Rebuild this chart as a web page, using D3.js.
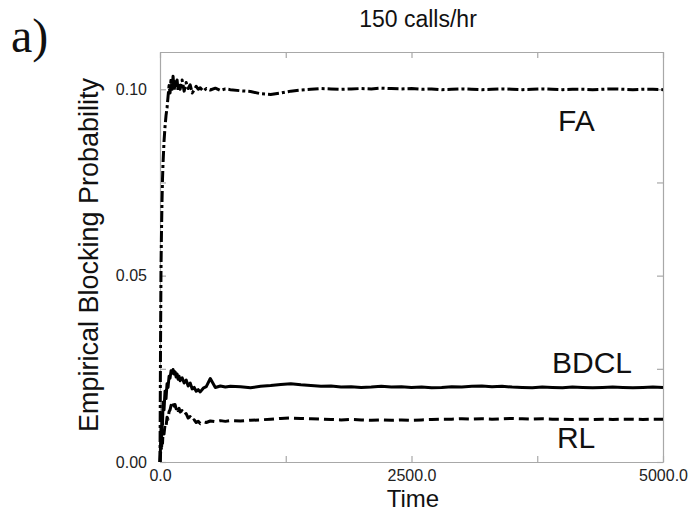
<!DOCTYPE html>
<html>
<head lang="en">
  <meta charset="UTF-8">
  <title>150 calls/hr</title>
</head>
<style>
  body { margin: 0; background: #fff; }
  #chart text { font-family: "Liberation Sans", Arial, sans-serif; fill: #111; }
  #chart .frame path.domain { stroke: #a8a8a8; stroke-width: 1.2; }
  #chart .frame line { stroke: #a8a8a8; stroke-width: 1.2; }
  #chart .series { fill: none; stroke: #000; stroke-width: 3; stroke-linejoin: round; }
</style>
<body>

<svg id="chart" width="691" height="512"></svg>

<script src="https://cdn.jsdelivr.net/npm/d3@7"></script>
<script>
  var times = [0, 5, 10, 15, 20, 25, 30, 40, 50, 60, 70, 80, 90, 100, 110, 120, 130, 140, 150, 160,
    170, 180, 190, 200, 220, 240, 260, 280, 300, 320, 340, 360, 380, 400, 430, 460, 500, 550, 600, 650,
    700, 800, 900, 1000, 1100, 1200, 1300, 1400, 1500, 1600, 1700, 1800, 1900, 2000, 2100, 2200, 2300, 2400,
    2500, 2600, 2700, 2800, 2900, 3000, 3100, 3200, 3300, 3400, 3500, 3600, 3700, 3800, 3900, 4000,
    4100, 4200, 4300, 4400, 4500, 4600, 4700, 4800, 4900, 5000];

  var fa = [0, 0.030, 0.052, 0.062, 0.070, 0.076, 0.080, 0.086, 0.090, 0.093, 0.095, 0.098, 0.101, 0.099, 0.103, 0.100, 0.1035, 0.0995, 0.102, 0.1005,
    0.1025, 0.0995, 0.1015, 0.1000, 0.1025, 0.0995, 0.1018, 0.1002, 0.1012, 0.0990, 0.0998, 0.1008, 0.1000, 0.1004, 0.0995, 0.1002, 0.0998, 0.1003, 0.0997, 0.1001,
    0.0999, 0.0996, 0.0994, 0.0988, 0.0986, 0.0990, 0.0995, 0.0998, 0.1000, 0.1002, 0.1001, 0.1000, 0.1001, 0.1002, 0.1001, 0.1003, 0.1002, 0.1001,
    0.1002, 0.1000, 0.1001, 0.0999, 0.1000, 0.1001, 0.1000, 0.0999, 0.1000, 0.1001, 0.1000, 0.0999, 0.1000, 0.1001, 0.1000, 0.0999,
    0.1000, 0.1000, 0.0999, 0.1000, 0.1001, 0.1000, 0.0999, 0.1000, 0.1000, 0.0999];

  var bdcl = [0, 0.004, 0.009, 0.006, 0.013, 0.010, 0.016, 0.014, 0.019, 0.017, 0.021, 0.020, 0.023, 0.0225, 0.0245, 0.0238, 0.0248, 0.0236, 0.0242, 0.0228,
    0.0236, 0.0222, 0.0230, 0.0218, 0.0226, 0.0212, 0.0220, 0.0204, 0.0212, 0.0196, 0.0200, 0.0190, 0.0194, 0.0188, 0.0198, 0.0202, 0.0224, 0.0200, 0.0204, 0.0201,
    0.0203, 0.0202, 0.0199, 0.0203, 0.0205, 0.0208, 0.0210, 0.0207, 0.0205, 0.0203, 0.0204, 0.0201, 0.0202, 0.0200, 0.0201, 0.0203, 0.0201, 0.0202,
    0.0200, 0.0201, 0.0199, 0.0200, 0.0202, 0.0201, 0.0203, 0.0204, 0.0202, 0.0203, 0.0201, 0.0200, 0.0199, 0.0201, 0.0200, 0.0199,
    0.0201, 0.0200, 0.0199, 0.0200, 0.0201, 0.0200, 0.0199, 0.0200, 0.0201, 0.0200];

  var rl = [0, 0.002, 0.005, 0.003, 0.007, 0.005, 0.008, 0.0075, 0.010, 0.0095, 0.012, 0.0115, 0.0135, 0.0140, 0.0152, 0.0148, 0.0158, 0.0150, 0.0154, 0.0143,
    0.0149, 0.0138, 0.0144, 0.0134, 0.0138, 0.0126, 0.0130, 0.0118, 0.0122, 0.0110, 0.0113, 0.0106, 0.0109, 0.0103, 0.0108, 0.0106, 0.0110, 0.0108, 0.0111, 0.0109,
    0.0111, 0.0110, 0.0112, 0.0113, 0.0115, 0.0117, 0.0118, 0.0117, 0.0116, 0.0115, 0.0114, 0.0113, 0.0114, 0.0113, 0.0112, 0.0113, 0.0112, 0.0113,
    0.0112, 0.0113, 0.0114, 0.0115, 0.0115, 0.0116, 0.0115, 0.0116, 0.0115, 0.0116, 0.0117, 0.0116, 0.0115, 0.0116, 0.0115, 0.0115,
    0.0114, 0.0115, 0.0114, 0.0115, 0.0114, 0.0115, 0.0115, 0.0114, 0.0115, 0.0115];

  var seriesNames = ['FA', 'BDCL', 'RL'];
  var xTicks = [0, 1250, 2500, 3750, 5000];
  var xTickLabels = ['0.0', '', '2500.0', '', '5000.0'];
  var yTicks = [0, 0.025, 0.05, 0.075, 0.10];
  var yTickLabels = ['0.00', '', '0.05', '', '0.10'];

  var svg = d3.select('#chart');

  var x = d3.scaleLinear().domain([0, 5000]).range([160, 663]);
  var y = d3.scaleLinear().domain([0, 0.11]).range([462, 52]);

  function fmt(labels, ticks) {
    return function (d) { return labels[ticks.indexOf(d)]; };
  }

  // frame: four axes with inward ticks
  svg.append('g').attr('class', 'frame').attr('transform', 'translate(0,462)')
    .call(d3.axisBottom(x).tickValues(xTicks).tickSizeInner(-6).tickSizeOuter(0)
      .tickPadding(8).tickFormat(fmt(xTickLabels, xTicks)));
  svg.append('g').attr('class', 'frame').attr('transform', 'translate(0,52)')
    .call(d3.axisTop(x).tickValues(xTicks).tickSizeInner(-6).tickSizeOuter(0).tickFormat(''));
  svg.append('g').attr('class', 'frame').attr('transform', 'translate(160,0)')
    .call(d3.axisLeft(y).tickValues(yTicks).tickSizeInner(-6).tickSizeOuter(0)
      .tickPadding(13).tickFormat(fmt(yTickLabels, yTicks)));
  svg.append('g').attr('class', 'frame').attr('transform', 'translate(663,0)')
    .call(d3.axisRight(y).tickValues(yTicks).tickSizeInner(-6).tickSizeOuter(0).tickFormat(''));

  svg.selectAll('.frame text').style('font-size', '16px').style('fill', '#222');

  // series
  var line = d3.line()
    .x(function (d, i) { return x(times[i]); })
    .y(function (d) { return y(d); });

  var dashes = { FA: '11,3,3,3', BDCL: null, RL: '10,5' };
  var values = { FA: fa, BDCL: bdcl, RL: rl };

  svg.selectAll('path.series')
    .data(seriesNames)
    .enter()
      .append('path')
      .attr('class', 'series')
      .attr('d', function (name) { return line(values[name]); })
      .attr('stroke-dasharray', function (name) { return dashes[name]; });

  // series labels
  svg.append('text').attr('x', x(3956)).attr('y', 131).style('font-size', '30px').text('FA');
  svg.append('text').attr('x', x(3897)).attr('y', 373).style('font-size', '30px').text('BDCL');
  svg.append('text').attr('x', x(3946)).attr('y', 448).style('font-size', '30px').text('RL');

  // titles
  svg.append('text').attr('x', 418).attr('y', 27).attr('text-anchor', 'middle')
    .style('font-size', '23px').text('150 calls/hr');
  svg.append('text').attr('x', 413).attr('y', 507).attr('text-anchor', 'middle')
    .style('font-size', '24px').text('Time');
  svg.append('text').attr('transform', 'translate(98,255) rotate(-90)').attr('text-anchor', 'middle')
    .style('font-size', '27px').text('Empirical Blocking Probability');
  svg.append('text').attr('x', 11).attr('y', 52)
    .style('font-family', '"Liberation Serif", "DejaVu Serif", serif').style('font-size', '48px').text('a)');
</script>
</body>
</html>
